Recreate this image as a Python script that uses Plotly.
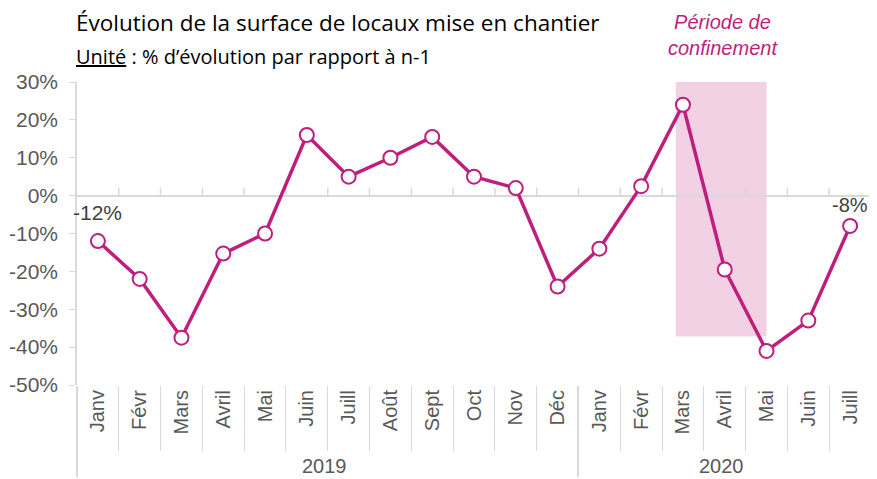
import plotly.graph_objects as go

years = ["2019"] * 12 + ["2020"] * 7
months = ["Janv", "Févr", "Mars", "Avril", "Mai", "Juin", "Juill", "Août", "Sept", "Oct", "Nov", "Déc",
          "Janv", "Févr", "Mars", "Avril", "Mai", "Juin", "Juill"]
values = [-12, -22, -37.5, -15.3, -10, 16, 5, 10, 15.5, 5, 2, -24,
          -14, 2.5, 24, -19.5, -41, -33, -8]
y_ticks = [30, 20, 10, 0, -10, -20, -30, -40, -50]

LINE = "#BF1F7C"
GREY = "#595959"
AX = "#D9D9D9"
FONT = "Liberation Sans, Arial"

fig = go.Figure()
fig.add_trace(go.Scatter(
    x=[years, months], y=values, mode="lines+markers",
    line=dict(color=LINE, width=3.5),
    marker=dict(size=14, color="white", line=dict(color=LINE, width=2)),
    cliponaxis=False, showlegend=False,
))

# confinement period
fig.add_shape(type="rect", xref="x", yref="y", x0=13.83, x1=16.0, y0=-37.2, y1=34.3,
              fillcolor="rgba(220,140,185,0.4)", line_width=0, layer="below")

# small ticks on the zero line
for i in range(1, 20):
    fig.add_shape(type="line", xref="x", yref="y", x0=i - 0.5, x1=i - 0.5, y0=0, y1=2.1,
                  line=dict(color=AX, width=1.5), layer="below")

fig.add_annotation(x=0, y=values[0], xref="x", yref="y", text=f"{values[0]:.0f}%", showarrow=False,
                   yshift=29, xshift=0, font=dict(family=FONT, size=21, color="#404040"))
fig.add_annotation(x=18, y=values[-1], xref="x", yref="y", text=f"{values[-1]:.0f}%", showarrow=False,
                   yshift=21, xshift=0, font=dict(family=FONT, size=20, color="#404040"))

fig.add_annotation(x=14.95, y=1.155, xref="x", yref="paper", xanchor="center", yanchor="middle",
                   text="<i>Période de<br>confinement</i>",
                   showarrow=False, font=dict(family=FONT, size=20, color=LINE))

fig.update_layout(
    width=869, height=471,
    margin=dict(l=69, r=6, t=74, b=94),
    plot_bgcolor="white", paper_bgcolor="white",
    font=dict(family=FONT, size=20, color=GREY),
    xaxis=dict(
        type="multicategory", range=[-0.5, 18.5], tickangle=-90, showgrid=False, zeroline=False,
        automargin=False,
        showline=False, ticks="outside", tickson="boundaries", ticklen=65, tickcolor=AX,
        dividercolor=AX, dividerwidth=1.5,
        tickfont=dict(family=FONT, size=20, color=GREY),
    ),
    yaxis=dict(
        range=[-50, 30], tickvals=y_ticks, ticktext=[f"{v}%" for v in y_ticks], showgrid=False,
        automargin=False, ticklabelstandoff=7,
        zeroline=True, zerolinecolor=AX, zerolinewidth=2,
        showline=True, linecolor=AX, linewidth=1.5, ticks="outside", ticklen=6, tickcolor=AX,
        tickfont=dict(family=FONT, size=21, color=GREY),
    ),
)

fig.add_annotation(xref="paper", yref="paper", x=0, y=1, xanchor="left", yanchor="middle",
                   text="Évolution de la surface de locaux mise en chantier", showarrow=False,
                   xshift=-3, yshift=60, font=dict(family="Open Sans, Noto Sans", size=22.5, color="black"))
fig.add_annotation(xref="paper", yref="paper", x=0, y=1, xanchor="left", yanchor="middle",
                   text="<u>Unité</u> : % d’évolution par rapport à n-1", showarrow=False,
                   xshift=-3, yshift=26, font=dict(family="Open Sans, Noto Sans", size=20, color="black"))

fig.write_html("out.html")
